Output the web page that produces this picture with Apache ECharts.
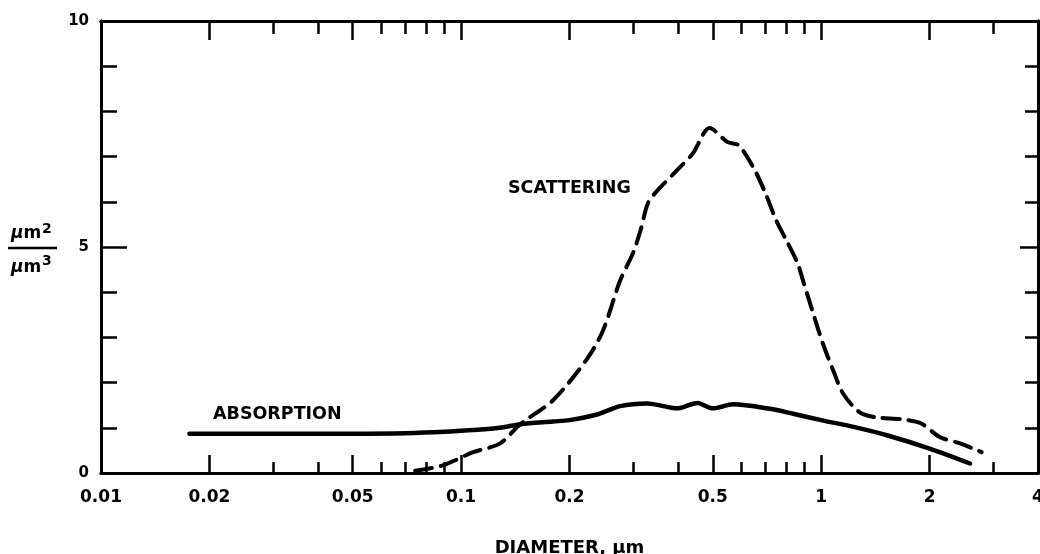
<!DOCTYPE html>
<html><head><meta charset="utf-8">
<script src="https://cdn.jsdelivr.net/npm/echarts@6/dist/echarts.min.js"></script>
<style>html,body{margin:0;padding:0;background:#fff}#c{width:1040px;height:554px}</style>
</head><body><div id="c"></div>
<script>
// Data
const absorptionD = [0.0176,0.025,0.035,0.05,0.07,0.09,0.108,0.128,0.146,0.18,0.2,0.24,0.2765,0.3285,0.398,0.453,0.5,0.57,0.721,0.836,1.0,1.23,1.53,2.0,2.59];
const absorptionV = [0.87,0.87,0.87,0.87,0.88,0.91,0.95,1.0,1.08,1.14,1.17,1.3,1.48,1.54,1.43,1.55,1.43,1.52,1.42,1.31,1.17,1.02,0.83,0.54,0.21];
const scatteringD = [0.0745,0.089,0.108,0.128,0.146,0.18,0.224,0.248,0.2765,0.30,0.315,0.33,0.348,0.398,0.44,0.49,0.55,0.59,0.65,0.70,0.75,0.80,0.86,0.89,0.95,1.01,1.08,1.15,1.28,1.42,1.67,1.89,2.14,2.42,2.79];
const scatteringV = [0.05,0.17,0.46,0.65,1.08,1.61,2.53,3.16,4.26,4.86,5.37,5.96,6.22,6.70,7.07,7.63,7.32,7.25,6.74,6.19,5.59,5.15,4.64,4.26,3.53,2.87,2.27,1.76,1.34,1.23,1.19,1.10,0.79,0.66,0.46];
const xLabelValues = [0.01,0.02,0.05,0.1,0.2,0.5,1,2,4];
const xLongTicks = [0.02,0.05,0.1,0.2,0.5,1,2];
const xShortTicks = [0.03,0.04,0.06,0.07,0.08,0.09,0.3,0.4,0.6,0.7,0.8,0.9,3];
const yLongTicks = [5];
const yShortTicks = [1,2,3,4,6,7,8,9];
const yLabelValues = [0,5,10];

const FD = '"DejaVu Sans", sans-serif';
const lineW = 3;
function xAx(pos, ticks, len, labels, extra) {
  return Object.assign({
    type: 'log', min: 0.01, max: 4, position: pos,
    axisLine: {show: true, onZero: false, lineStyle: {color: '#000', width: lineW}},
    axisTick: {show: true, inside: true, length: len, customValues: ticks, lineStyle: {color: '#000', width: 2.5}},
    axisLabel: labels ? {show: true, customValues: labels, color: '#000', fontFamily: FD, fontWeight: 'bold', fontSize: 17, margin: 16,
      formatter: v => String(v)} : {show: false},
    splitLine: {show: false}, minorTick: {show: false}
  }, extra || {});
}
function yAx(pos, ticks, len, labels) {
  return {
    type: 'value', min: 0, max: 10, position: pos,
    axisLine: {show: true, onZero: false, lineStyle: {color: '#000', width: lineW}},
    axisTick: {show: true, inside: true, length: len, customValues: ticks, lineStyle: {color: '#000', width: 2.5}},
    axisLabel: labels ? {show: true, customValues: labels, color: '#000', fontFamily: FD, fontWeight: 'bold', fontSize: 15, margin: 12} : {show: false},
    splitLine: {show: false}
  };
}
const chart = echarts.init(document.getElementById('c'));
chart.setOption({
  backgroundColor: '#fff',
  animation: false,
  grid: {left: 101, right: 2, top: 21, bottom: 81, containLabel: false, outerBoundsMode: 'none'},
  xAxis: [
    xAx('bottom', xLongTicks, 18, xLabelValues, {name: 'DIAMETER, μm', nameLocation: 'middle', nameGap: 66,
      nameTextStyle: {color: '#000', fontFamily: FD, fontWeight: 'bold', fontSize: 18}}),
    xAx('bottom', xShortTicks, 11, null),
    xAx('top', xLongTicks, 19, null),
    xAx('top', xShortTicks, 13, null)
  ],
  yAxis: [
    yAx('left', yShortTicks, 16, yLabelValues),
    yAx('left', yLongTicks, 26, null),
    yAx('right', yShortTicks, 13, null),
    yAx('right', yLongTicks, 18, null)
  ],
  series: [
    {type: 'line', name: 'ABSORPTION', xAxisIndex: 0, yAxisIndex: 0, showSymbol: false, smooth: 0.3,
      data: absorptionD.map((d, i) => [d, absorptionV[i]]),
      lineStyle: {color: '#000', width: 4.5, cap: 'round'}},
    {type: 'line', name: 'SCATTERING', xAxisIndex: 0, yAxisIndex: 0, showSymbol: false, smooth: 0.3,
      data: scatteringD.map((d, i) => [d, scatteringV[i]]),
      lineStyle: {color: '#000', width: 4, type: [17, 9], cap: 'round'}}
  ],
  graphic: [
    {type: 'text', x: 508, y: 188, style: {text: 'SCATTERING', fill: '#000', font: 'bold 17.5px ' + FD, verticalAlign: 'middle'}},
    {type: 'text', x: 213, y: 414, style: {text: 'ABSORPTION', fill: '#000', font: 'bold 17.5px ' + FD, verticalAlign: 'middle'}},
    {type: 'text', x: 11, y: 242, style: {text: '{u|μ}{m|m}', verticalAlign: 'bottom',
      rich: {u: {fill: '#000', font: 'italic bold 17px ' + FD}, m: {fill: '#000', font: 'bold 17px ' + FD}}}},
    {type: 'text', x: 42, y: 236, style: {text: '2', fill: '#000', font: 'bold 14px ' + FD, verticalAlign: 'bottom'}},
    {type: 'line', shape: {x1: 8, y1: 248, x2: 57, y2: 248}, style: {stroke: '#000', lineWidth: 2.5}},
    {type: 'text', x: 11, y: 276, style: {text: '{u|μ}{m|m}', verticalAlign: 'bottom',
      rich: {u: {fill: '#000', font: 'italic bold 17px ' + FD}, m: {fill: '#000', font: 'bold 17px ' + FD}}}},
    {type: 'text', x: 42, y: 268, style: {text: '3', fill: '#000', font: 'bold 14px ' + FD, verticalAlign: 'bottom'}}
  ]
});
</script></body></html>
